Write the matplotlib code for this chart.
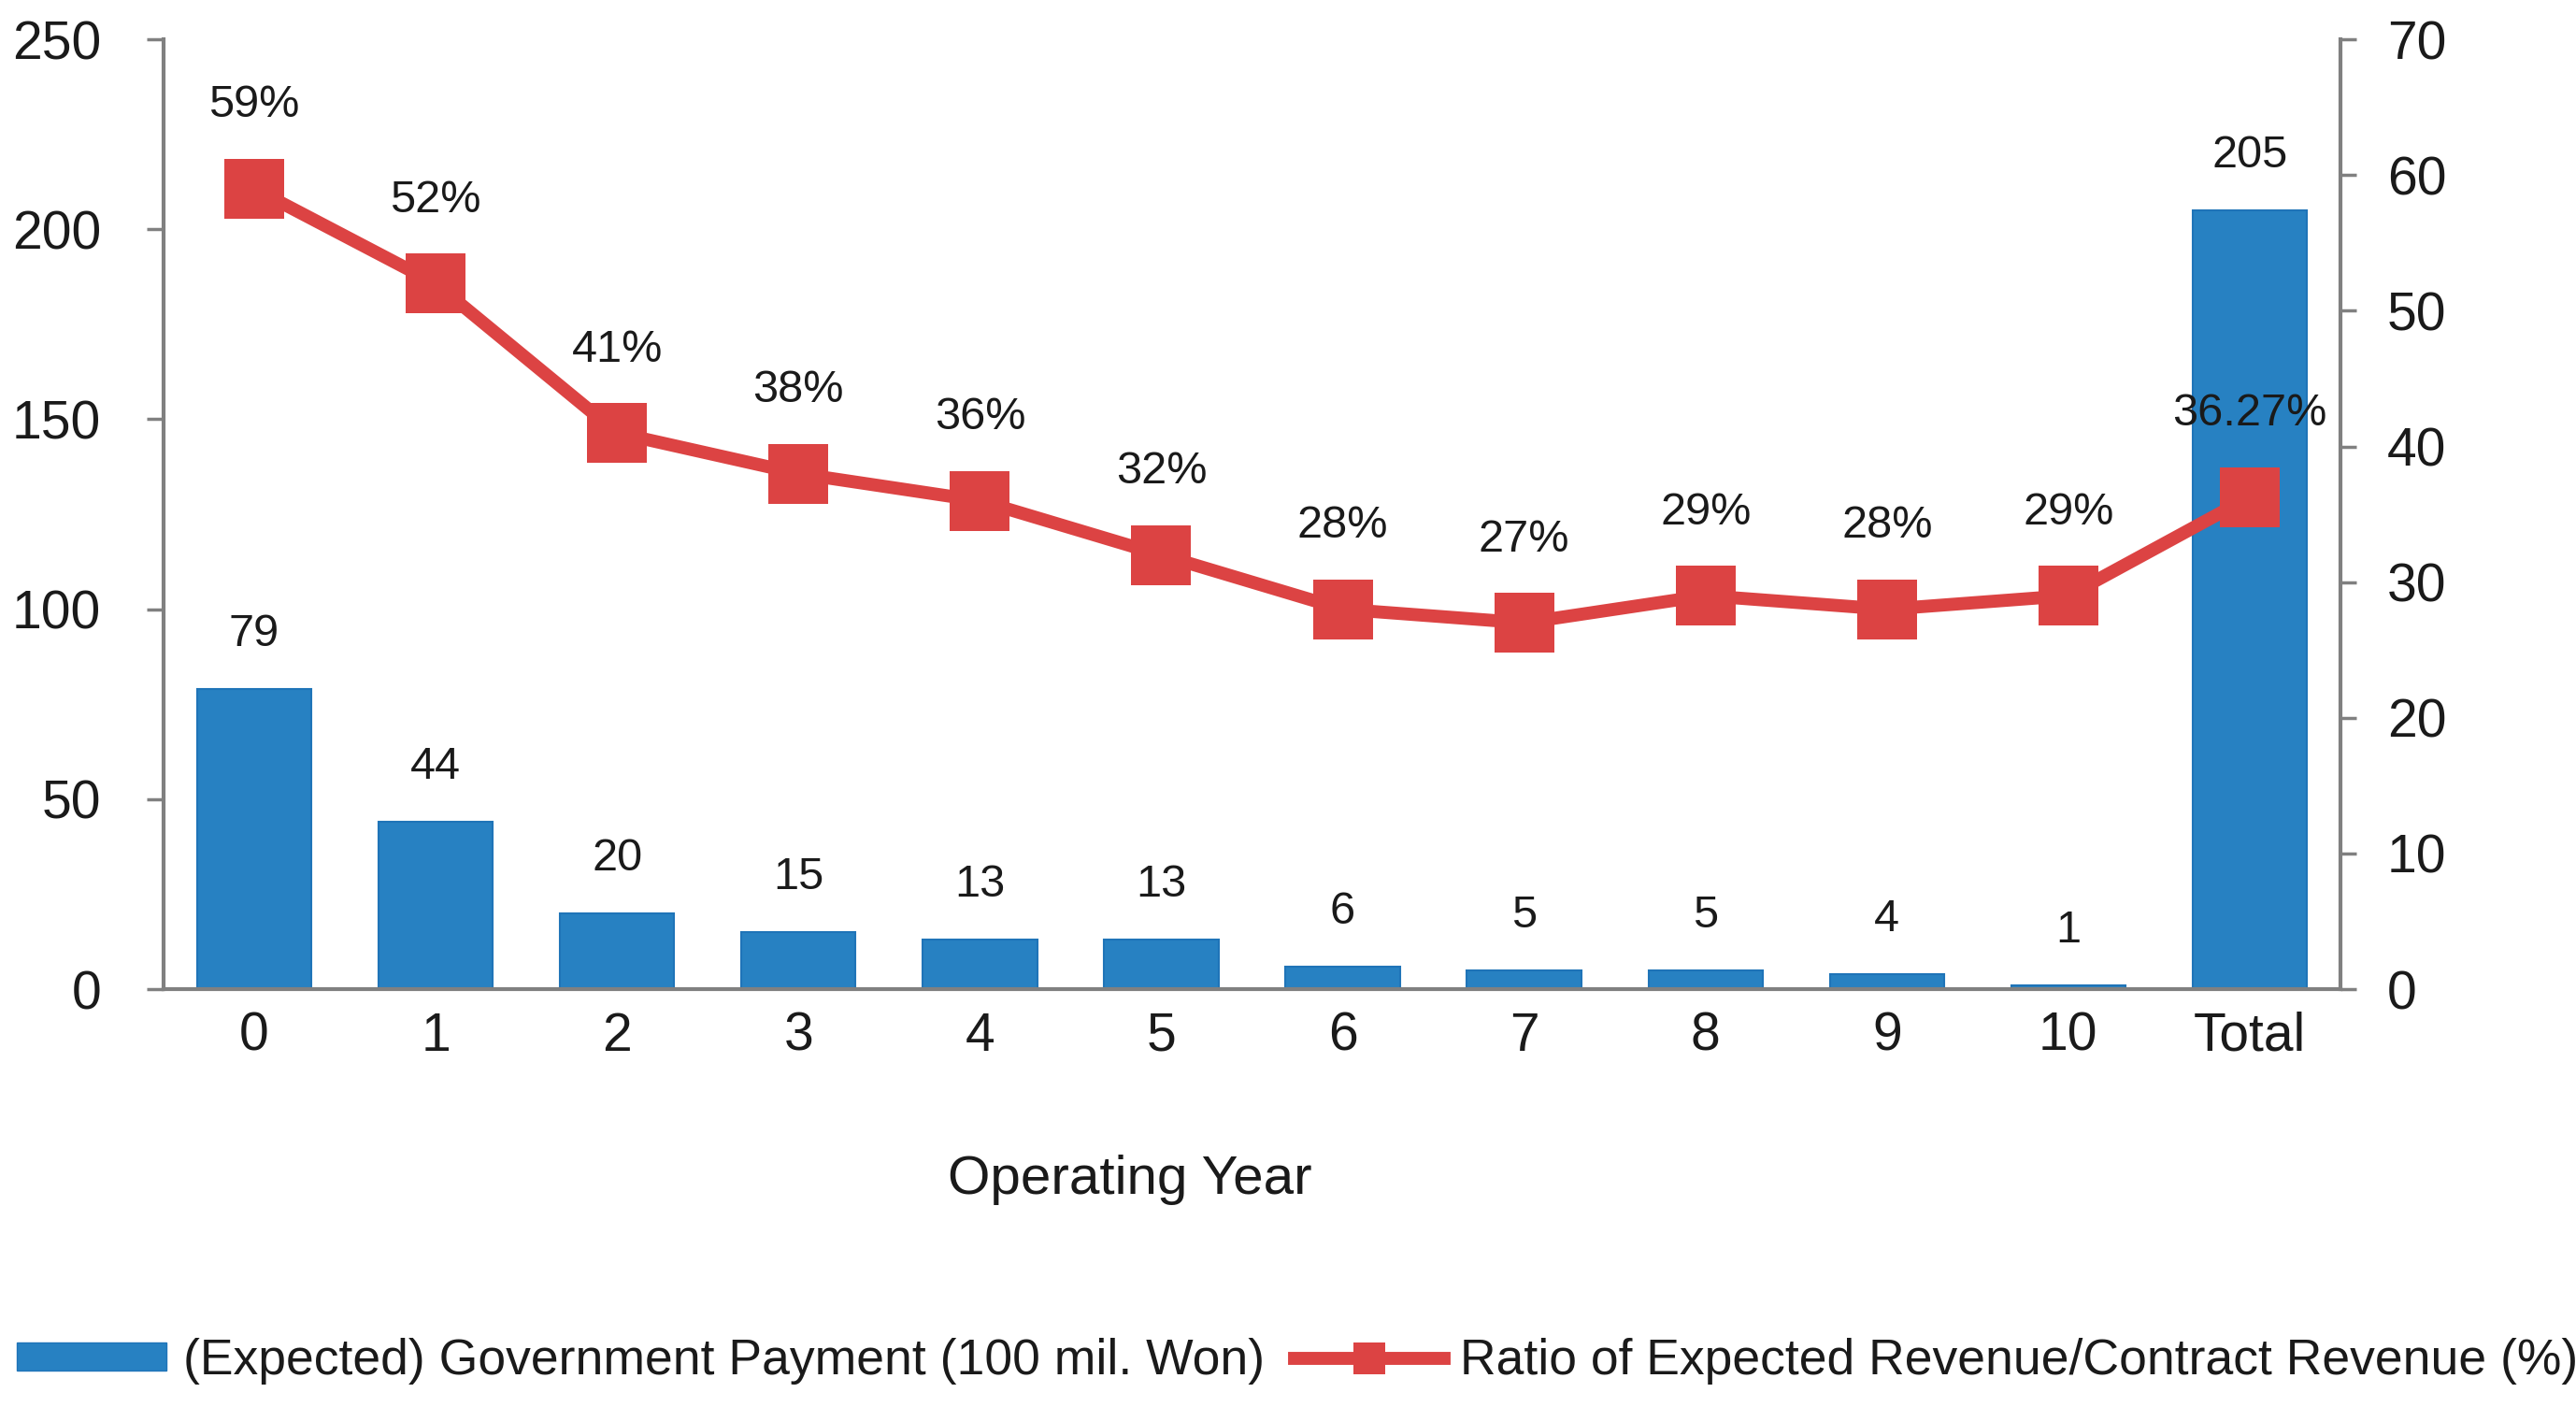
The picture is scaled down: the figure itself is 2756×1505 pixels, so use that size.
import matplotlib.pyplot as plt
from matplotlib.lines import Line2D
from matplotlib.patches import Patch

plt.rcParams['font.family'] = ['Liberation Sans', 'DejaVu Sans']

# data
years = ['0', '1', '2', '3', '4', '5', '6', '7', '8', '9', '10', 'Total']
payment = [79, 44, 20, 15, 13, 13, 6, 5, 5, 4, 1, 205]
ratio = [59, 52, 41, 38, 36, 32, 28, 27, 29, 28, 29, 36.27]
ratio_labels = ['59%', '52%', '41%', '38%', '36%', '32%', '28%', '27%',
                '29%', '28%', '29%', '36.27%']

blue = '#2781C2'
blue_edge = '#1f74b8'
red = '#DC4343'
gray = '#808080'
txt = '#1a1a1a'

W, H = 2756, 1505
fig = plt.figure(figsize=(W / 100, H / 100), dpi=100)
ax = fig.add_axes([175 / W, 0.297, (2504 - 175) / W, 0.972 - 0.297])

x = list(range(len(years)))
ax.bar(x, payment, width=0.63, color=blue, edgecolor=blue_edge, linewidth=1.5, zorder=2)
ax.set_xlim(-0.5, 11.5)
ax.set_ylim(0, 250)
ax.set_yticks(range(0, 251, 50))
ax.set_xticks(x)
ax.set_xticklabels(years)

for i, v in enumerate(payment):
    ax.annotate(str(v), (i, v), xytext=(0, 42), textcoords='offset points',
                ha='center', va='center', fontsize=35, color=txt)

ax2 = ax.twinx()
ax2.plot(x, ratio, color=red, lw=10, marker='s', ms=46, mew=0, zorder=3)
ax2.set_ylim(0, 70)
ax2.set_yticks(range(0, 71, 10))
for i, (r, lbl) in enumerate(zip(ratio, ratio_labels)):
    ax2.annotate(lbl, (i, r), xytext=(0, 64), textcoords='offset points',
                 ha='center', va='center', fontsize=35, color=txt)

# axes styling
for s in ['top', 'right']:
    ax.spines[s].set_visible(False)
for s in ['top', 'left', 'bottom']:
    ax2.spines[s].set_visible(False)
for sp in [ax.spines['left'], ax.spines['bottom'], ax2.spines['right']]:
    sp.set_color(gray)
    sp.set_linewidth(3)

ax.tick_params(axis='y', labelsize=41, length=13, width=2.5, color=gray, pad=35, labelcolor=txt)
ax.tick_params(axis='x', labelsize=41, length=0, pad=17, labelcolor=txt)
ax2.tick_params(axis='y', labelsize=41, length=12, width=2.5, color=gray, pad=24, labelcolor=txt)

fig.text(1209 / W, 1 - 1262 / H, 'Operating Year', ha='center', va='center',
         fontsize=42, color=txt)

handles = [Patch(facecolor=blue, edgecolor=blue_edge),
           Line2D([], [], color=red, lw=10, marker='s', ms=25, mew=0)]
labels = ['(Expected) Government Payment (100 mil. Won)',
          'Ratio of Expected Revenue/Contract Revenue (%)']
fig.legend(handles, labels, loc='center left', bbox_to_anchor=(18 / W, 1 - 1456 / H),
           ncol=2, frameon=False, fontsize=38.5, handlelength=3.0, handleheight=0.5,
           handletextpad=0.32, columnspacing=0.6, borderpad=0, borderaxespad=0,
           labelcolor=txt)

fig.savefig('out.png', dpi=100)
